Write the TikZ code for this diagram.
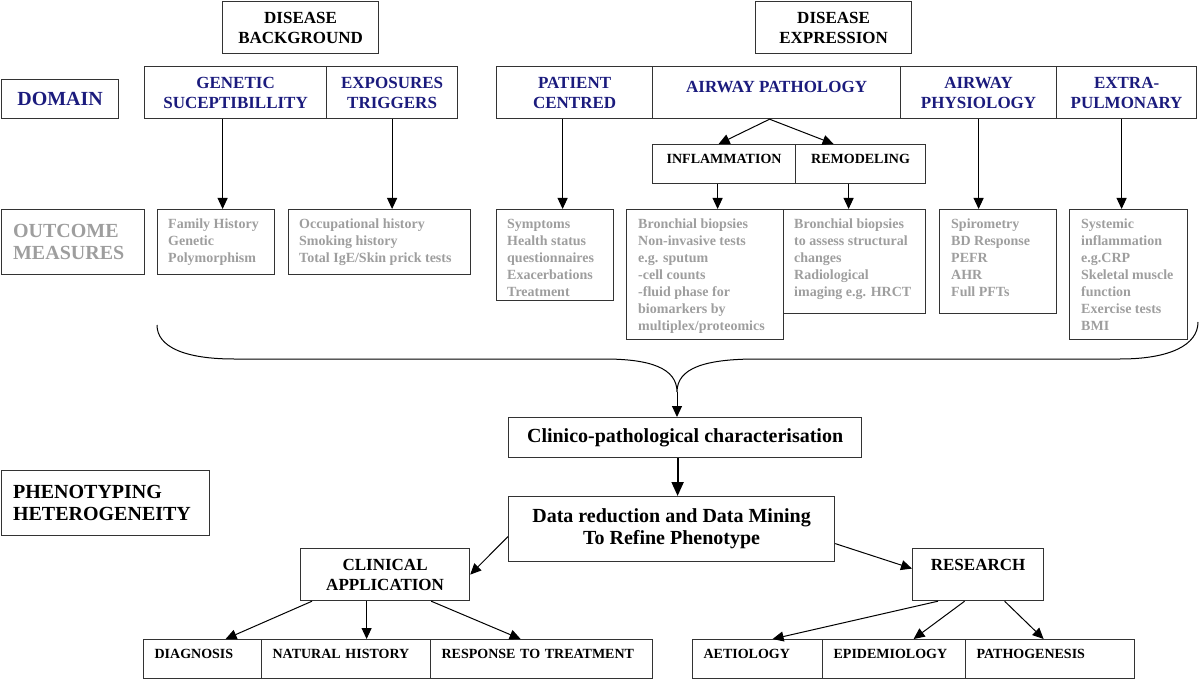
\documentclass[tikz,border=0pt]{standalone}
\usepackage{fontspec}
\setmainfont{Liberation Serif}
\usetikzlibrary{arrows.meta}
\usepackage{xcolor}
\definecolor{domblue}{HTML}{1B1B7D}
\definecolor{measgray}{HTML}{9E9E9E}
\definecolor{framegray}{HTML}{333333}

\begin{document}
\begin{tikzpicture}[x=1pt, y=-1pt,
    cell/.style={draw=framegray, line width=1.2pt, anchor=north west, inner sep=0pt,
                 align=center},
    hdr/.style={font=\fontsize{17}{20}\selectfont\bfseries},
    dom/.style={hdr, text=domblue},
    big/.style={font=\fontsize{20}{22}\selectfont\bfseries},
    lowcell/.style={cell, font=\fontsize{14}{17}\selectfont\bfseries, align=left,
                    text depth=10pt, minimum height=39},
    meas/.style={anchor=north west, inner sep=0pt, align=left, text=measgray,
                 font=\fontsize{14}{17}\selectfont\bfseries},
    arr/.style={draw=black, line width=1pt, -{Triangle[length=11pt, width=10pt]}},
    fatarr/.style={draw=black, line width=2pt, -{Triangle[length=14pt, width=12pt]}}]
    \useasboundingbox (0,0) rectangle (1200,679);

    \node[cell, hdr, minimum width=156, minimum height=52] (bgBox) at (222,1) {DISEASE\\BACKGROUND};
    \node[cell, hdr, minimum width=156, minimum height=52] (exBox) at (755,1) {DISEASE\\EXPRESSION};

    \node[cell, big, text=domblue, minimum width=117, minimum height=39] (domBox) at (1,79) {DOMAIN};
    \node[cell, dom, minimum width=182, minimum height=52] (genBox) at (144,66) {GENETIC\\SUCEPTIBILLITY};
    \node[cell, dom, minimum width=131, minimum height=52] (expBox) at (326,66) {EXPOSURES\\TRIGGERS};
    \node[cell, dom, minimum width=156, minimum height=52] (patBox) at (496,66) {PATIENT\\CENTRED};
    \node[cell, dom, minimum width=248, minimum height=52, text depth=12pt] (pathBox) at (652,66) {AIRWAY PATHOLOGY};
    \node[cell, dom, minimum width=156, minimum height=52] (physBox) at (900,66) {AIRWAY\\PHYSIOLOGY};
    \node[cell, dom, minimum width=140, minimum height=52] (extBox) at (1056,66) {EXTRA-\\PULMONARY};

    \node[cell, font=\fontsize{14}{17}\selectfont\bfseries, text depth=10pt,
          minimum width=143, minimum height=39] (inflBox) at (652,144) {INFLAMMATION};
    \node[cell, font=\fontsize{14}{17}\selectfont\bfseries, text depth=10pt,
          minimum width=130, minimum height=39] (remBox) at (795,144) {REMODELING};

    \node[cell, big, text=measgray, align=left, text width=120pt,
          minimum width=143, minimum height=65] (outBox) at (1,209) {OUTCOME\\MEASURES};
    \node[cell, minimum width=117, minimum height=65] (famBox) at (157,209) {};
    \node[cell, minimum width=182, minimum height=65] (occBox) at (288,209) {};
    \node[cell, minimum width=117, minimum height=91] (sympBox) at (496,209) {};
    \node[cell, minimum width=157, minimum height=130] (binfBox) at (626,209) {};
    \node[cell, minimum width=142, minimum height=104] (bremBox) at (783,209) {};
    \node[cell, minimum width=117, minimum height=104] (spiroBox) at (939,209) {};
    \node[cell, minimum width=118, minimum height=130] (sysBox) at (1069,209) {};

    \node[meas] (famTxt) at ([xshift=11pt, yshift=-10pt]famBox.north west)
        {Family History\\Genetic\\Polymorphism};
    \node[meas] (occTxt) at ([xshift=11pt, yshift=-10pt]occBox.north west)
        {Occupational history\\Smoking history\\Total IgE/Skin prick tests};
    \node[meas] (sympTxt) at ([xshift=11pt, yshift=-10pt]sympBox.north west)
        {Symptoms\\Health status\\questionnaires\\Exacerbations\\Treatment};
    \node[meas] (binfTxt) at ([xshift=12pt, yshift=-10pt]binfBox.north west)
        {Bronchial biopsies\\Non-invasive tests\\e.g. sputum\\-cell counts\\-fluid phase for\\biomarkers by\\multiplex/proteomics};
    \node[meas] (bremTxt) at ([xshift=11pt, yshift=-10pt]bremBox.north west)
        {Bronchial biopsies\\to assess structural\\changes\\Radiological\\imaging e.g. HRCT};
    \node[meas] (spiroTxt) at ([xshift=12pt, yshift=-10pt]spiroBox.north west)
        {Spirometry\\BD Response\\PEFR\\AHR\\Full PFTs};
    \node[meas] (sysTxt) at ([xshift=12pt, yshift=-10pt]sysBox.north west)
        {Systemic\\inflammation\\e.g.CRP\\Skeletal muscle\\function\\Exercise tests\\BMI};

    \draw[arr] ([xshift=-13pt]genBox.south) -- ([xshift=-13pt]genBox.south |- famBox.north);
    \draw[arr] (expBox.south) -- (expBox.south |- occBox.north);
    \draw[arr] ([xshift=-12pt]patBox.south) -- ([xshift=-12pt]patBox.south |- sympBox.north);
    \draw[arr] ([xshift=-7pt]pathBox.south) -- ([xshift=-5.5pt]inflBox.north);
    \draw[arr] ([xshift=-7pt]pathBox.south) -- ([xshift=-27pt]remBox.north);
    \draw[arr] ([xshift=-6.5pt]inflBox.south) -- ([xshift=-6.5pt]inflBox.south |- binfBox.north);
    \draw[arr] ([xshift=-12pt]remBox.south) -- ([xshift=-12pt]remBox.south |- bremBox.north);
    \draw[arr] (physBox.south) -- (physBox.south |- spiroBox.north);
    \draw[arr] ([xshift=-5pt]extBox.south) -- ([xshift=-5pt]extBox.south |- sysBox.north);

    \coordinate (tip) at (677,392);
    \draw[line width=1pt] (157,325) .. controls (157,347) and (185,359) .. (234,359) -- (604,359)
        .. controls (650,359) and (677,368) .. (tip)
        .. controls (677,368) and (705,359) .. (757,359) -- (1120,359)
        .. controls (1170,359) and (1198,345) .. (1198,322);

    \node[cell, big, minimum width=353, minimum height=40] (clinBox) at (508,417) {Clinico-pathological characterisation};
    \node[cell, big, minimum width=326, minimum height=65] (dataBox) at (508,496) {Data reduction and Data Mining\\To Refine Phenotype};
    \node[cell, big, align=left, text width=185pt, minimum width=208, minimum height=65] (phenoBox) at (1,470) {PHENOTYPING\\HETEROGENEITY};
    \node[cell, hdr, minimum width=169, minimum height=52] (clinAppBox) at (300,548) {CLINICAL\\APPLICATION};
    \node[cell, hdr, text depth=19pt, minimum width=131, minimum height=52] (resBox) at (912,548) {RESEARCH};

    \draw[arr] (tip) -- (tip |- clinBox.north);
    \draw[fatarr] ([xshift=-7.5pt]clinBox.south) -- ([xshift=-7.5pt]clinBox.south |- dataBox.north);
    \draw[arr] ([yshift=-7.5pt]dataBox.west) -- (clinAppBox.east);
    \draw[arr] ([yshift=-14.5pt]dataBox.east) -- ([yshift=6pt]resBox.west);

    \node[lowcell, minimum width=118, text width=96pt] (diagBox) at (143,639) {DIAGNOSIS};
    \node[lowcell, minimum width=169, text width=147pt] (natBox) at (261,639) {NATURAL HISTORY};
    \node[lowcell, minimum width=222, text width=200pt] (respBox) at (430,639) {RESPONSE TO TREATMENT};
    \node[lowcell, minimum width=130, text width=108pt] (aetBox) at (692,639) {AETIOLOGY};
    \node[lowcell, minimum width=143, text width=121pt] (epiBox) at (822,639) {EPIDEMIOLOGY};
    \node[lowcell, minimum width=169, text width=147pt] (pathoBox) at (965,639) {PATHOGENESIS};

    \draw[arr] ([xshift=12pt]clinAppBox.south west) -- ([xshift=23pt]diagBox.north);
    \draw[arr] ([xshift=-18.5pt]clinAppBox.south) -- ([xshift=-18.5pt]clinAppBox.south |- natBox.north);
    \draw[arr] ([xshift=-39pt]clinAppBox.south east) -- ([xshift=-21pt]respBox.north);
    \draw[arr] ([xshift=26pt]resBox.south west) -- ([xshift=15pt]aetBox.north);
    \draw[arr] ([xshift=-13.5pt]resBox.south) -- ([xshift=19.5pt]epiBox.north);
    \draw[arr] ([xshift=26.5pt]resBox.south) -- ([xshift=-6.5pt]pathoBox.north);
\end{tikzpicture}
\end{document}
